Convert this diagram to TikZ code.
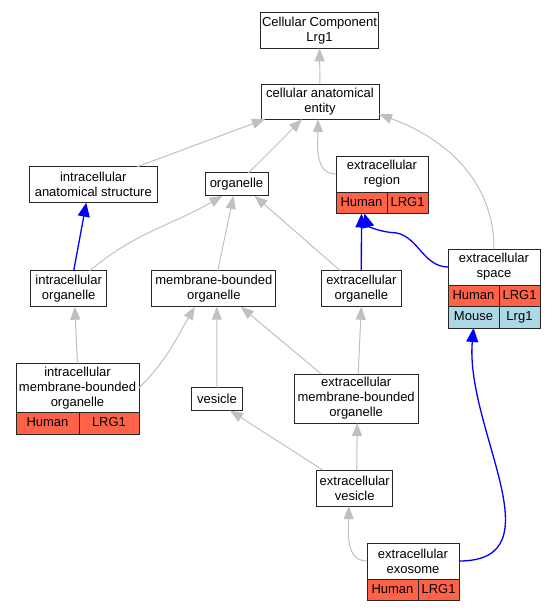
\documentclass[tikz,border=0pt]{standalone}
\usepackage{fontspec}
\setmainfont{Liberation Sans}
\usetikzlibrary{positioning}
\usetikzlibrary{arrows.meta}
\definecolor{linkGray}{RGB}{192,192,192}
\definecolor{humanRed}{RGB}{255,99,71}
\definecolor{mouseBlue}{RGB}{173,216,230}
\tikzset{termStyle/.style={rectangle, draw=black!85, fill=white, line width=1pt, inner sep=1pt, outer sep=0pt, align=center, font=\fontsize{13}{15}\selectfont}}
\tikzset{humanCell/.style={rectangle, draw=black!85, fill=humanRed, line width=1pt, inner sep=0pt, outer sep=0pt, minimum height=21.5, text height=9.5, text depth=2.5, font=\fontsize{13}{15}\selectfont}}
\tikzset{mouseCell/.style={humanCell, fill=mouseBlue}}
\tikzset{isA/.style={-{Triangle[length=13pt,width=10pt]}, draw=linkGray, line width=1pt}, partOf/.style={-{Triangle[length=14pt,width=12pt]}, draw=blue, line width=1.3pt}}

\begin{document}
\begin{tikzpicture}[x=1pt, y=1pt]
  \useasboundingbox (0,0) rectangle (555,-611);
  % nodes
  \node at (319.5,-30.3) [termStyle, minimum width=118, minimum height=36] (cc) {Cellular Component\\Lrg1};
  \node at (320,-101.7) [termStyle, minimum width=118, minimum height=35] (cae) {cellular anatomical\\entity};
  \node at (93.3,-184.7) [termStyle, minimum width=128, minimum height=36] (ias) {intracellular\\anatomical structure};
  \node at (236.5,-184.3) [termStyle, minimum width=63, minimum height=23] (org) {organelle};
  \node at (382,-174) [termStyle, minimum width=92, minimum height=36] (er) {extracellular\\region};
  \node [humanCell, minimum width=51] (erH) [below right=0pt of er.south west] {Human};
  \node [humanCell, minimum width=41] (erG) [right=0pt of erH] {LRG1};
  \node at (68.7,-288.7) [termStyle, minimum width=76, minimum height=36] (io) {intracellular\\organelle};
  \node at (213.8,-288.7) [termStyle, minimum width=124, minimum height=36] (mbo) {membrane-bounded\\organelle};
  \node at (361.3,-288.7) [termStyle, minimum width=80, minimum height=36] (eo) {extracellular\\organelle};
  \node at (494,-267) [termStyle, minimum width=92, minimum height=36] (es) {extracellular\\space};
  \node [humanCell, minimum width=51] (esH) [below right=0pt of es.south west] {Human};
  \node [humanCell, minimum width=41] (esG) [right=0pt of esH] {LRG1};
  \node [mouseCell, minimum width=51] (esM) [below=0pt of esH] {Mouse};
  \node [mouseCell, minimum width=41] (esL) [below=0pt of esG] {Lrg1};
  \node at (77.5,-388) [termStyle, minimum width=123, minimum height=49] (imbo) {intracellular\\membrane-bounded\\organelle};
  \node [humanCell, minimum width=63] (imboH) [below right=0pt of imbo.south west] {Human};
  \node [humanCell, minimum width=60] (imboG) [right=0pt of imboH] {LRG1};
  \node at (217,-399) [termStyle, minimum width=51, minimum height=23] (ves) {vesicle};
  \node at (356.2,-398.5) [termStyle, minimum width=124, minimum height=49] (embo) {extracellular\\membrane-bounded\\organelle};
  \node at (354.7,-488) [termStyle, minimum width=76, minimum height=36] (ev) {extracellular\\vesicle};
  \node at (413,-561) [termStyle, minimum width=92, minimum height=36] (exo) {extracellular\\exosome};
  \node [humanCell, minimum width=51] (exoH) [below right=0pt of exo.south west] {Human};
  \node [humanCell, minimum width=41] (exoG) [right=0pt of exoH] {LRG1};

  % is_a lines
  \draw [isA] (cae) -- (cc);
  \draw [isA] ([xshift=44]ias.north) -- ([xshift=-55]cae.south);
  \draw [isA] ([xshift=12]org.north) -- ([xshift=-18]cae.south);
  \draw [isA] (er.west) to [out=180, in=-90] ([xshift=-2]cae.south);
  \draw [isA] (es.north) to [out=90, in=-20] ([yshift=5]cae.south east);
  \draw [isA] ([xshift=21]io.north) to [out=40, in=-150] ([xshift=-14]org.south);
  \draw [isA] ([xshift=4]mbo.north) -- ([xshift=-3]org.south);
  \draw [isA] ([xshift=-21]eo.north) -- ([xshift=18]org.south);
  \draw [isA] (imbo.north) -- ([xshift=6]io.south);
  \draw [isA] (imbo.east) to [out=45, in=-120] ([xshift=-19]mbo.south);
  \draw [isA] (ves.north) -- ([xshift=3]mbo.south);
  \draw [isA] ([xshift=-35]embo.north) -- ([xshift=27]mbo.south);
  \draw [isA] ([xshift=2]embo.north) -- (eo.south);
  \draw [isA] ([xshift=-32]ev.north) -- ([xshift=13]ves.south);
  \draw [isA] ([xshift=2]ev.north) -- ([xshift=1]embo.south);
  \draw [isA] (exo.west) to [out=180, in=-90] ([xshift=-6]ev.south);

  % part_of lines
  \draw [partOf] ([xshift=5]io.north) -- ([xshift=-7]ias.south);
  \draw [partOf] (eo.north) -- (erH.south);
  \draw [partOf] (es.west) to [out=180, in=0] ([xshift=30,yshift=-19]erH.south) to [out=175, in=-75] ([xshift=3]erH.south);
  \draw [partOf] (exo.east) to [out=0, in=-95, looseness=1.1] (esM.south);
\end{tikzpicture}
\end{document}
